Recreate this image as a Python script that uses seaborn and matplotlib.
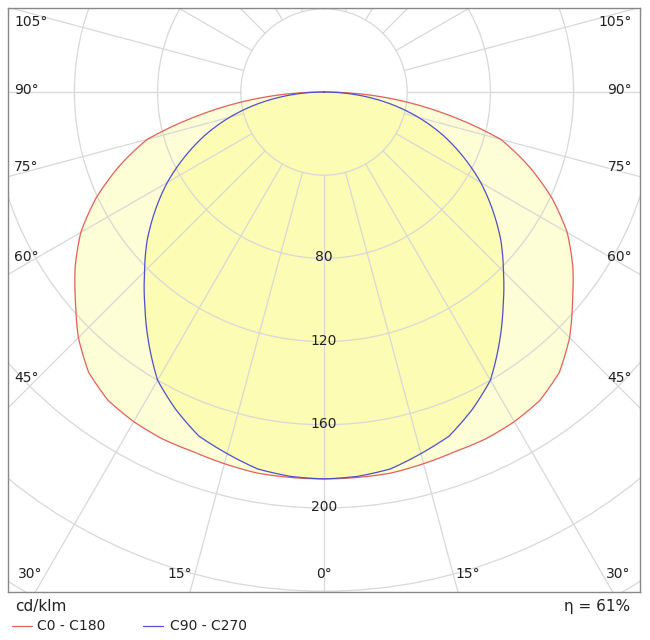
import numpy as np
import matplotlib
matplotlib.use("Agg")
import matplotlib.pyplot as plt
import seaborn as sns
from matplotlib.lines import Line2D

sns.set_theme(style="white")
plt.rcParams['font.family'] = ['DejaVu Sans']

angles_c0 = [0, 5, 10, 15, 20, 25, 30, 35, 40, 45, 50, 55, 60, 65, 70, 75, 80, 85, 90]
c0_c180 = [186, 186, 186, 185, 184, 184, 183, 181, 176, 167, 156, 146, 135, 121, 105, 88, 58, 29, 0]
angles_c90 = [0, 5, 10, 15, 20, 25, 30, 35, 40, 45, 50, 55, 60, 65, 70, 75, 80, 85, 90]
c90_c270 = [186, 185.5, 184, 180, 176, 168.5, 160, 147, 134, 122, 111, 99, 87, 74, 61, 47, 32, 16, 0]
radius_labels = [80, 120, 160, 200]
efficiency = "η = 61%"

S = 2.08  # px per cd
cx, cy = 324, 92
def px(x, y):
    return (x - cx) / S, (cy - y) / S

fig = plt.figure(figsize=(6.5, 6.4), dpi=100)
ax = fig.add_axes([8/650, 48/640, 632/650, 584/640])
x0, y0 = px(8, 8); x1, y1 = px(640, 592)
ax.set_xlim(x0, x1); ax.set_ylim(y1, y0)
ax.set_aspect('auto')
ax.set_xticks([]); ax.set_yticks([])
for s in ax.spines.values():
    s.set_color('#888888'); s.set_linewidth(1)

def xy(a, v):
    deg = np.arange(0, 90.25, 0.5)
    r = np.interp(deg, a, v)
    t = np.radians(deg)
    xr = r * np.sin(t); yr = -r * np.cos(t)
    X = np.concatenate([-xr[::-1], xr]); Y = np.concatenate([yr[::-1], yr])
    return X, Y

X0, Y0 = xy(angles_c0, c0_c180)
X9, Y9 = xy(angles_c90, c90_c270)
ax.fill(X0, Y0, color='#fdfdd6', zorder=1)
ax.fill(X9, Y9, color='#fcfcb4', zorder=1)

gc = '#d8d8d8'
for r in range(40, 400, 40):
    ax.add_patch(plt.Circle((0, 0), r, fill=False, color=gc, lw=0.9, zorder=2))
for d in range(0, 360, 15):
    t = np.radians(d)
    ax.plot([40*np.sin(t), 500*np.sin(t)], [-40*np.cos(t), -500*np.cos(t)], color=gc, lw=0.9, zorder=2)

ax.plot(X0, Y0, color='#e06060', lw=0.9, zorder=3)
ax.plot(X9, Y9, color='#5050d0', lw=0.9, zorder=3)

for r in radius_labels:
    ax.text(0, -r + 0.5, str(r), ha='center', va='center', fontsize=10, color='#222', zorder=4)

side = [("105°", 22), ("90°", 90), ("75°", 167), ("60°", 257), ("45°", 378)]
for lab, yp in side:
    ax.text(*px(14, yp), lab, ha='left', va='center', fontsize=10, color='#222')
    ax.text(*px(632, yp), lab, ha='right', va='center', fontsize=10, color='#222')
bottom = [("30°", 30), ("15°", 180), ("0°", 324), ("15°", 468), ("30°", 618)]
for lab, xp in bottom:
    ax.text(*px(xp, 574), lab, ha='center', va='center', fontsize=10, color='#222')

fig.text(15/650, 1 - 607/640, "cd/klm", fontsize=11, va='center', color='#222')
fig.text(630/650, 1 - 607/640, efficiency, fontsize=11, va='center', ha='right', color='#222')
fig.add_artist(Line2D([12/650, 32/650], [1-626/640]*2, color='#e06060', lw=0.9))
fig.text(37/650, 1 - 626/640, "C0 - C180", fontsize=10, va='center', color='#222')
fig.add_artist(Line2D([143/650, 163/650], [1-626/640]*2, color='#5050d0', lw=0.9))
fig.text(170/650, 1 - 626/640, "C90 - C270", fontsize=10, va='center', color='#222')

fig.savefig("out.png", dpi=100, facecolor='white')
